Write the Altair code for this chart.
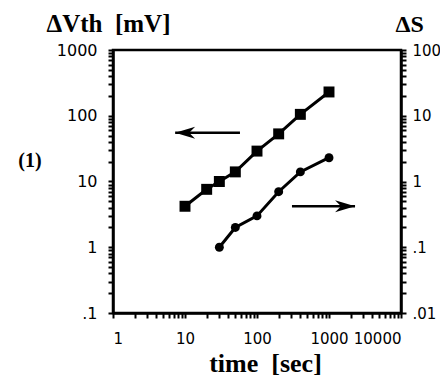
import altair as alt
import pandas as pd

# ---- data ----
time_vth = [10, 20, 30, 50, 100, 200, 400, 1000]
dvth_mv = [4.2, 7.6, 10, 14, 29, 53, 105, 230]

time_s = [30, 50, 100, 200, 400, 1000]
delta_s = [0.1, 0.2, 0.3, 0.7, 1.4, 2.3]

# axis ticks and labels
x_major = [1, 10, 100, 1000, 10000]
x_labels = ["1", "10", "100", "1000", "10000"]
yl_major = [0.1, 1, 10, 100, 1000]
yl_labels = [".1", "1", "10", "100", "1000"]
yr_major = [0.01, 0.1, 1, 10, 100]
yr_labels = [".01", ".1", "1", "10", "100"]

# annotation arrows (data coordinates on the left axis): tail, tip, level
arrow_tail = [58, 306]
arrow_tip = [7.3, 2300]
arrow_level = [55, 4.2]
arrow_dir = ["left", "right"]

NB = "\u00a0"


def minors(major):
    out = []
    for v in major[:-1]:
        for m in range(2, 10):
            out.append(round(m * v, 6))
    return out


def label_expr(major, labels):
    e = "''"
    for v, l in zip(reversed(major), reversed(labels)):
        e = f"datum.value == {v} ? '{l}' : ({e})"
    return e


LABEL_FONT = "DejaVu Sans"
TITLE_FONT = "Liberation Serif"

common_axis = dict(
    domainColor="black", domainWidth=2.5, tickColor="black", tickWidth=2, tickSize=5,
    labelFont=LABEL_FONT, labelColor="black", grid=False,
    titleFont=TITLE_FONT, titleFontWeight="bold", titleColor="black",
)

x_enc = alt.X(
    "t:Q",
    scale=alt.Scale(type="log", domain=[1, 10000], nice=False),
    axis=alt.Axis(
        values=x_major + minors(x_major),
        labelExpr=label_expr(x_major, x_labels),
        labelPadding=13, labelFontSize=15,
        title=f"time{NB}{NB}[sec]", titleFontSize=26,
        titleX=152, titleY=58, titleAlign="center", titleBaseline="alphabetic",
        **common_axis,
    ),
)

yl_scale = alt.Scale(type="log", domain=[0.1, 1000], nice=False)
yl_axis = alt.Axis(
    values=yl_major + minors(yl_major),
    labelExpr=label_expr(yl_major, yl_labels),
    labelPadding=11, labelFontSize=16,
    orient="left",
    title=f"ΔVth{NB}{NB}[mV]", titleFontSize=25,
    titleAngle=0, titleX=-67, titleY=-19, titleAlign="left", titleBaseline="alphabetic",
    **common_axis,
)

yr_scale = alt.Scale(type="log", domain=[0.01, 100], nice=False)
yr_axis = alt.Axis(
    values=yr_major + minors(yr_major),
    labelExpr=label_expr(yr_major, yr_labels),
    labelPadding=6, labelFontSize=15,
    orient="right",
    title="ΔS", titleFontSize=24,
    titleAngle=0, titleX=-6, titleY=-19, titleAlign="left", titleBaseline="alphabetic",
    **common_axis,
)

df_v = pd.DataFrame({"t": time_vth, "v": dvth_mv})
df_s = pd.DataFrame({"t": time_s, "s": delta_s})
df_a = pd.DataFrame({"t": arrow_tail, "t2": arrow_tip, "v": arrow_level, "dir": arrow_dir})

y_left = alt.Y("v:Q", scale=yl_scale, axis=yl_axis)
x_tip = alt.X("t2:Q", scale=alt.Scale(type="log", domain=[1, 10000], nice=False))

base_v = alt.Chart(df_v).encode(x=x_enc, y=y_left)
line_v = base_v.mark_line(color="black", strokeWidth=3)
pts_v = base_v.mark_point(shape="square", filled=True, color="black", size=120, opacity=1)

arrow_rule = alt.Chart(df_a).mark_rule(color="black", strokeWidth=2.5).encode(
    x=x_enc, x2="t2:Q", y=y_left
)
head_left = alt.Chart(df_a).transform_filter("datum.dir == 'left'").mark_point(
    shape="M0,0 L1,-0.3 L0.7,0 L1,0.3 Z", filled=True, color="black", size=1600, opacity=1
).encode(x=x_tip, y=y_left)
head_right = alt.Chart(df_a).transform_filter("datum.dir == 'right'").mark_point(
    shape="M0,0 L-1,-0.3 L-0.7,0 L-1,0.3 Z", filled=True, color="black", size=1600, opacity=1
).encode(x=x_tip, y=y_left)

label_1 = alt.Chart(pd.DataFrame({"txt": ["(1)"]})).mark_text(
    font=TITLE_FONT, fontSize=20, fontWeight="bold", color="black", align="center", baseline="middle"
).encode(x=alt.value(-83), y=alt.value(111), text="txt:N")

left_layer = alt.layer(line_v, pts_v, arrow_rule, head_left, head_right, label_1)

base_s = alt.Chart(df_s).encode(x=x_enc, y=alt.Y("s:Q", scale=yr_scale, axis=yr_axis))
line_s = base_s.mark_line(color="black", strokeWidth=3)
pts_s = base_s.mark_point(shape="circle", filled=True, color="black", size=80, opacity=1)
right_layer = alt.layer(line_s, pts_s)

chart = alt.layer(left_layer, right_layer).resolve_scale(y="independent").properties(
    width=288, height=263,
    background="white",
    autosize=alt.AutoSizeParams(type="none"),
    padding={"left": 105, "top": 42, "right": 39, "bottom": 64},
).configure_view(stroke="black", strokeWidth=2.5)

chart.save("out.html", embed_options={"renderer": "svg", "actions": False})
